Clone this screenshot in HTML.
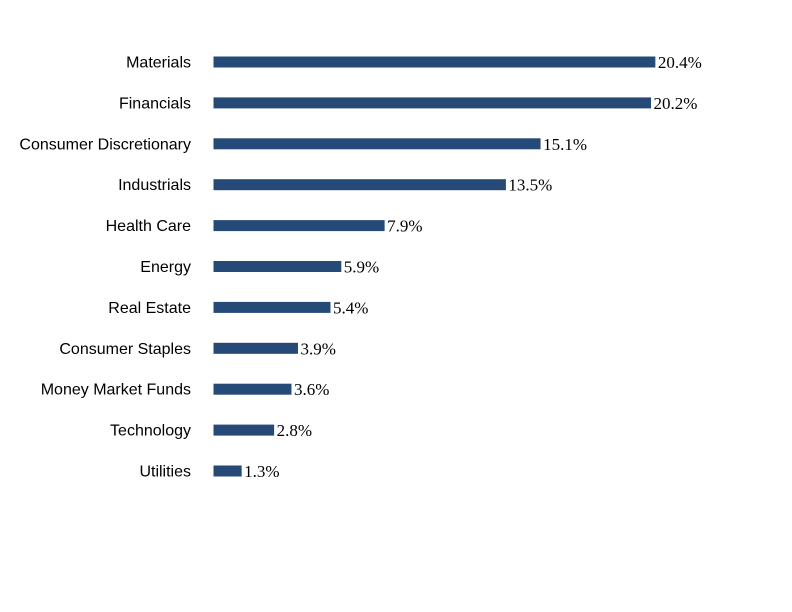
<!DOCTYPE html>
<html><head><meta charset="utf-8"><style>
html,body{margin:0;padding:0;background:#fff;}
svg{display:block;}
.cat{font-family:"Liberation Sans",sans-serif;font-size:16px;fill:#000;}
.val{font-family:"Liberation Serif",serif;font-size:17px;fill:#000;}
</style></head><body>
<svg id="chart" width="792" height="612"></svg>
<script>
const categories=["Materials","Financials","Consumer Discretionary","Industrials","Health Care","Energy","Real Estate","Consumer Staples","Money Market Funds","Technology","Utilities"];
const values=[20.4,20.2,15.1,13.5,7.9,5.9,5.4,3.9,3.6,2.8,1.3];
const valueLabels=["20.4%","20.2%","15.1%","13.5%","7.9%","5.9%","5.4%","3.9%","3.6%","2.8%","1.3%"];
const svg=document.getElementById('chart');
const NS='http://www.w3.org/2000/svg';
const x0=213.5, pxPer=21.66;
function xs(v){return x0+v*pxPer;}
function ys(i){return 62+i*40.9;}
categories.forEach((c,i)=>{
  const y=ys(i);
  const t=document.createElementNS(NS,'text');
  t.setAttribute('x',191);t.setAttribute('y',y+5.5);t.setAttribute('text-anchor','end');t.setAttribute('class','cat');
  t.textContent=c;
  
  
  svg.appendChild(t);
  const r=document.createElementNS(NS,'rect');
  r.setAttribute('x',x0);r.setAttribute('y',y-5.5);r.setAttribute('width',xs(values[i])-x0);r.setAttribute('height',11);r.setAttribute('fill','#254a78');
  
  
  svg.appendChild(r);
  const v=document.createElementNS(NS,'text');
  v.setAttribute('x',xs(values[i])+2.5);v.setAttribute('y',y+6);v.setAttribute('class','val');
  v.textContent=valueLabels[i];
  
  
  svg.appendChild(v);
});
</script>
</body></html>
